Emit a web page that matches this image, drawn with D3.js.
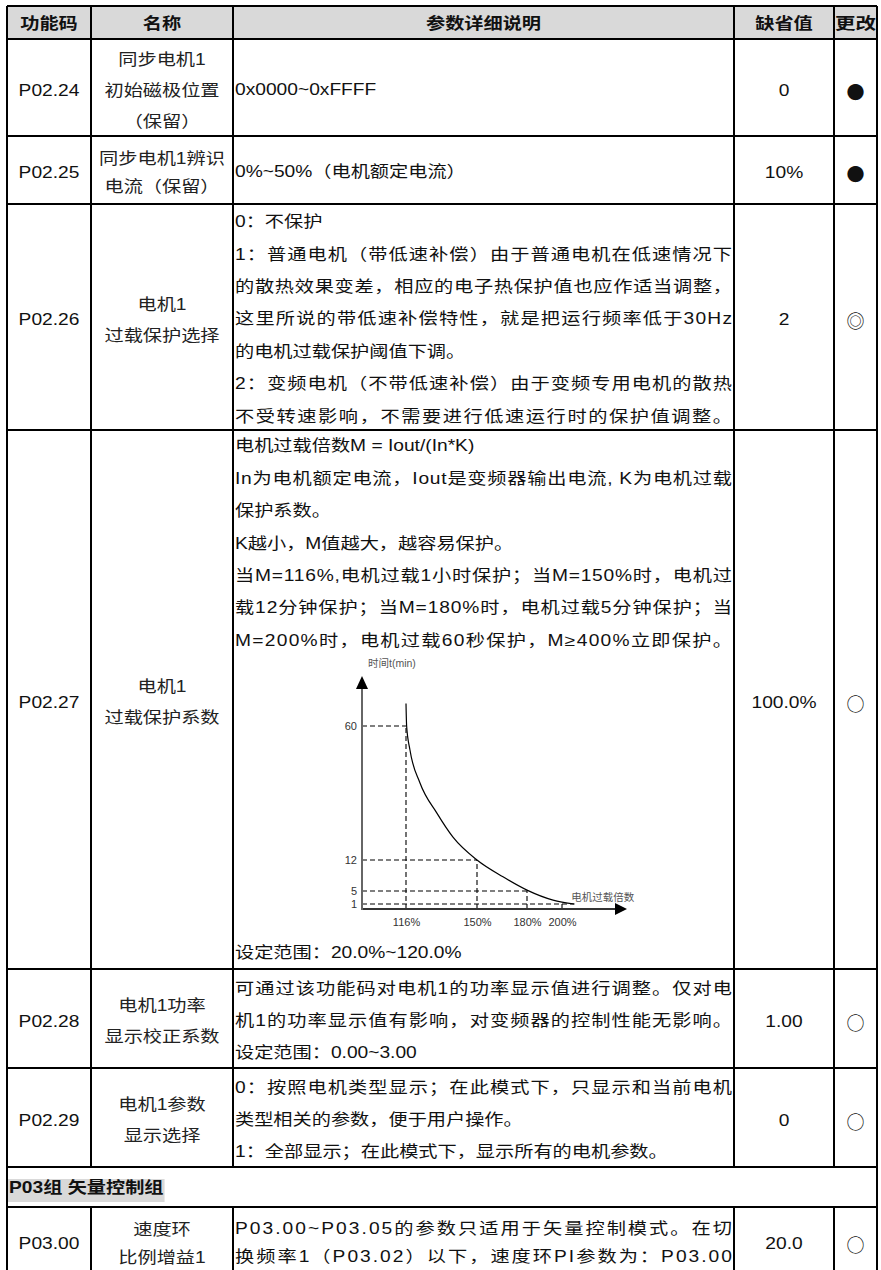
<!DOCTYPE html>
<html>
<head>
<meta charset="utf-8">
<script src="https://cdn.jsdelivr.net/npm/d3@7/dist/d3.min.js"></script>
<style>
  body { margin: 0; background: #fff; }
  svg text { font-family: "Liberation Sans", Arial, "Noto Sans CJK SC", sans-serif; }
</style>
</head>
<body>
<script>
// ---- table content ----
const headers = ["功能码", "名称", "参数详细说明", "缺省值", "更改"];
const codes = ["P02.24", "P02.25", "P02.26", "P02.27", "P02.28", "P02.29", "P03.00"];
const names = [
  ["同步电机1", "初始磁极位置", "（保留）"],
  ["同步电机1辨识", "电流（保留）"],
  ["电机1", "过载保护选择"],
  ["电机1", "过载保护系数"],
  ["电机1功率", "显示校正系数"],
  ["电机1参数", "显示选择"],
  ["速度环", "比例增益1"]
];
const descs = [
  ["0x0000~0xFFFF"],
  ["0%~50%（电机额定电流）"],
  ["0：不保护",
   "1：普通电机（带低速补偿）由于普通电机在低速情况下",
   "的散热效果变差，相应的电子热保护值也应作适当调整，",
   "这里所说的带低速补偿特性，就是把运行频率低于30Hz",
   "的电机过载保护阈值下调。",
   "2：变频电机（不带低速补偿）由于变频专用电机的散热",
   "不受转速影响，不需要进行低速运行时的保护值调整。"],
  ["电机过载倍数M = Iout/(In*K)",
   "In为电机额定电流，Iout是变频器输出电流, K为电机过载",
   "保护系数。",
   "K越小，M值越大，越容易保护。",
   "当M=116%,电机过载1小时保护；当M=150%时，电机过",
   "载12分钟保护；当M=180%时，电机过载5分钟保护；当",
   "M=200%时，电机过载60秒保护，M≥400%立即保护。",
   "设定范围：20.0%~120.0%"],
  ["可通过该功能码对电机1的功率显示值进行调整。仅对电",
   "机1的功率显示值有影响，对变频器的控制性能无影响。",
   "设定范围：0.00~3.00"],
  ["0：按照电机类型显示；在此模式下，只显示和当前电机",
   "类型相关的参数，便于用户操作。",
   "1：全部显示；在此模式下，显示所有的电机参数。"],
  ["P03.00~P03.05的参数只适用于矢量控制模式。在切",
   "换频率1（P03.02）以下，速度环PI参数为：P03.00"]
];
const defaults = ["0", "10%", "2", "100.0%", "1.00", "0", "20.0"];
const changes = ["●", "●", "◎", "○", "○", "○", "○"];
const groupTitle = "P03组 矢量控制组";

// ---- overload chart (P02.27) ----
const markPct = [116, 150, 180, 200];      // x tick labels (%)
const markTime = [60, 12, 5, 1];           // y tick labels (min)
const curvePct = [116, 116.3, 117.9, 122.7, 130.8, 138.5, 150, 165.6, 180, 194.9, 207];
const curveTime = [69, 60, 51.4, 39.6, 28.8, 20.2, 12, 8.2, 5.2, 2.2, 1];
const xTitle = "电机过载倍数";
const yTitle = "时间t(min)";

// ---- layout ----
const W = 881, H = 1270;
const colX = [7, 91, 233, 734, 834, 877];
const headTop = 6, headH = 33;
const rowH = [97, 68, 226, 539, 99, 99, 68];
const groupAfter = 5, groupH = 40;
const LH = 32.4, SX = 1.2, FS = 16, OFF = 3;

const svg = d3.select("body").append("svg")
  .attr("width", W).attr("height", H);

function text(g, x, y, s, anchor, opt = {}) {
  const t = g.append("text")
    .attr("transform", `translate(${x},${y}) scale(${opt.sx || SX},1)`)
    .attr("text-anchor", anchor)
    .attr("dominant-baseline", "central")
    .attr("font-size", opt.fs || FS)
    .attr("font-weight", opt.bold ? "bold" : null)
    .attr("fill", opt.fill || "#111")
    .text(s);
  if (opt.fit) {
    // justify wrapped lines that nearly fill the column; paragraph ends stay ragged
    const w = t.node().getComputedTextLength();
    const lim = s.endsWith("。") ? 0.9 : 0.85;
    if (w * (opt.sx || SX) > opt.fit * lim) {
      t.attr("textLength", opt.fit / (opt.sx || SX)).attr("lengthAdjust", "spacing");
    }
  }
  return t;
}

const cells = svg.append("g");
const lines = svg.append("g").attr("stroke", "#000").attr("stroke-width", 2);

// header
cells.append("rect").attr("x", colX[0]).attr("y", headTop)
  .attr("width", colX[5] - colX[0]).attr("height", headH).attr("fill", "#d9d9d9");
headers.forEach((h, i) => {
  const cx = (colX[i] + colX[i + 1]) / 2;
  const t = text(cells, cx, headTop + headH / 2 + 1, h, "middle", { bold: true });
  if (i === 4) t.attr("textLength", (colX[5] - colX[4] - 2) / SX).attr("lengthAdjust", "spacingAndGlyphs");
});

// rows
let y = headTop + headH;
const hLines = [headTop, y];
const vSegs = [[headTop, y]];
const descX = colX[2] + 2, descW = colX[3] - colX[2] - 4;

codes.forEach((code, r) => {
  const top = y, h = rowH[r], mid = top + h / 2;
  const nlh = h < 70 ? 28 : 31;
  const dlh = h < 70 ? 28 : LH;
  const cx = c => (colX[c] + colX[c + 1]) / 2;
  text(cells, cx(0), mid + OFF, code, "middle");
  const nm = names[r];
  nm.forEach((s, i) => text(cells, cx(1), mid + OFF + (i - (nm.length - 1) / 2) * nlh, s, "middle", { fill: "#222" }));
  const d = descs[r];
  if (code === "P02.27") {
    d.forEach((s, i) => {
      const yy = i < d.length - 1 ? top + 16 + i * LH : top + h - 16;
      text(cells, descX, yy, s, "start", { fit: descW });
    });
    drawChart();
  } else {
    d.forEach((s, i) => text(cells, descX, mid + 2 + (i - (d.length - 1) / 2) * dlh, s, "start", { fit: descW }));
  }
  text(cells, cx(3), mid + OFF, defaults[r], "middle");
  cells.append("text")
    .attr("x", cx(4)).attr("y", mid + OFF)
    .attr("text-anchor", "middle").attr("dominant-baseline", "central")
    .attr("font-size", 18).attr("fill", "#111")
    .style("font-family", "'Noto Sans CJK SC', 'DejaVu Sans', sans-serif")
    .text(changes[r]);
  vSegs.push([top, top + h]);
  y += h;
  hLines.push(y);

  if (r === groupAfter) {
    const gTop = y;
    const gt = text(cells, colX[0] + 2, gTop + groupH / 2 + 1, groupTitle, "start", { bold: true });
    const bw = gt.node().getComputedTextLength() * SX;
    cells.insert("rect", "text").attr("x", colX[0] + 1).attr("y", gTop + 12)
      .attr("width", bw + 2).attr("height", 23).attr("fill", "#d9d9d9");
    y += groupH;
    hLines.push(y);
  }
});

// borders
hLines.forEach(yy => lines.append("line").attr("x1", colX[0]).attr("x2", colX[5]).attr("y1", yy).attr("y2", yy));
lines.append("line").attr("x1", colX[0]).attr("x2", colX[0]).attr("y1", headTop).attr("y2", y);
lines.append("line").attr("x1", colX[5]).attr("x2", colX[5]).attr("y1", headTop).attr("y2", y);
vSegs.forEach(([a, b]) => {
  colX.slice(1, 5).forEach(xx => lines.append("line").attr("x1", xx).attr("x2", xx).attr("y1", a).attr("y2", b));
});

function drawChart() {
  const ox = 362, oy = 909;
  const g = svg.append("g");
  const x = d3.scaleLinear()
    .domain([100, 116, 150, 180, 200, 237])
    .range([0, 44, 115, 165, 200, 265].map(v => ox + v));
  const yS = d3.scaleLinear()
    .domain([0, 1, 5, 12, 60, 80])
    .range([0, 5, 18, 49, 183, 233].map(v => oy - v));

  // dashed guides
  const hEnd = [116, 150, 180, 207];
  const dash = g.append("g").attr("stroke", "#000").attr("stroke-width", 1.1)
    .attr("stroke-dasharray", "5,3").attr("fill", "none");
  markTime.forEach((t, i) => dash.append("line")
    .attr("x1", ox).attr("x2", x(hEnd[i])).attr("y1", yS(t)).attr("y2", yS(t)));
  markPct.forEach((p, i) => dash.append("line")
    .attr("x1", x(p)).attr("x2", x(p)).attr("y1", oy).attr("y2", yS(markTime[i])));

  // curve
  const pts = curvePct.map((p, i) => [x(p), yS(curveTime[i])]);
  g.append("path").attr("d", d3.line().curve(d3.curveMonotoneX)(pts))
    .attr("fill", "none").attr("stroke", "#000").attr("stroke-width", 1.2);

  // axes
  const xAx = g.append("g").attr("transform", `translate(0,${oy})`)
    .call(d3.axisBottom(x).tickValues(markPct).tickFormat(d => d + "%").tickSize(0).tickPadding(9));
  const yAx = g.append("g").attr("transform", `translate(${ox},0)`)
    .call(d3.axisLeft(yS).tickValues(markTime).tickSize(0).tickPadding(5));
  [xAx, yAx].forEach(a => {
    a.select(".domain").remove();
    a.selectAll("text").attr("font-size", 11).attr("fill", "#333")
      .style("font-family", "'Liberation Sans', Arial, sans-serif");
  });
  const xEnd = x.range()[5], yEnd = yS.range()[5];
  g.append("line").attr("x1", ox).attr("x2", xEnd - 8).attr("y1", oy).attr("y2", oy)
    .attr("stroke", "#333").attr("stroke-width", 2);
  g.append("line").attr("x1", ox).attr("x2", ox).attr("y1", oy + 1).attr("y2", yEnd + 10)
    .attr("stroke", "#666").attr("stroke-width", 2);
  g.append("path").attr("d", `M${xEnd},${oy}L${xEnd - 12},${oy - 6}L${xEnd - 12},${oy + 6}Z`).attr("fill", "#000");
  g.append("path").attr("d", `M${ox},${yEnd}L${ox - 6},${yEnd + 13}L${ox + 6},${yEnd + 13}Z`).attr("fill", "#000");

  g.append("text").attr("x", x(207) - 3).attr("y", yS(1) - 3)
    .attr("font-size", 10.5).attr("fill", "#555").text(xTitle);
  g.append("text").attr("x", ox + 6).attr("y", yEnd - 9)
    .attr("font-size", 10.5).attr("fill", "#555").text(yTitle);
}
</script>
</body>
</html>
